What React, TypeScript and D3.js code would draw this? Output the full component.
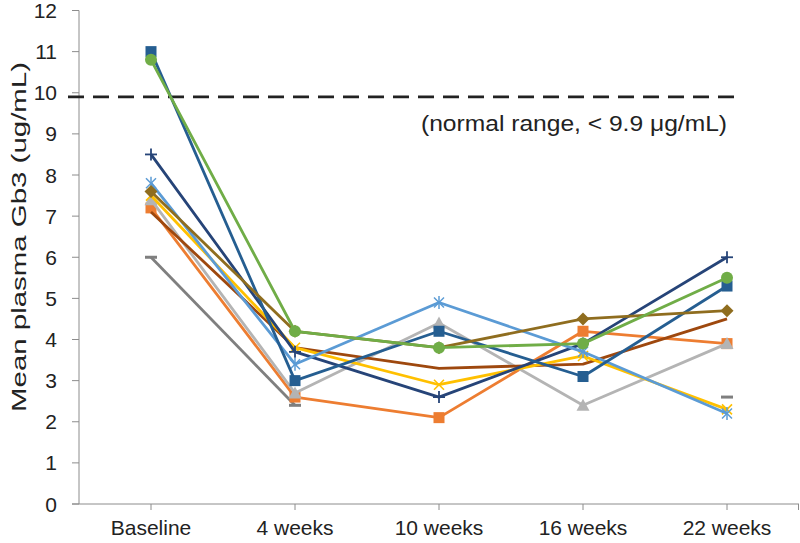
import React from "react";
import * as d3 from "d3";

const categories = ["Baseline", "4 weeks", "10 weeks", "16 weeks", "22 weeks"];
const yTicks = [0, 1, 2, 3, 4, 5, 6, 7, 8, 9, 10, 11, 12];

const navyPlus = [8.5, 3.7, 2.6, 3.9, 6.0];
const blueSquare = [11.0, 3.0, 4.2, 3.1, 5.3];
const greenCircle = [10.8, 4.2, 3.8, 3.9, 5.5];
const lightBlueStar = [7.8, 3.4, 4.9, 3.7, 2.2];
const orangeSquare = [7.2, 2.6, 2.1, 4.2, 3.9];
const grayTriangle = [7.4, 2.7, 4.4, 2.4, 3.9];
const goldX = [7.5, 3.8, 2.9, 3.6, 2.3];
const darkGrayDash: (number | null)[] = [6.0, 2.4, null, null, 2.6];
const brownLine = [7.1, 3.8, 3.3, 3.4, 4.5];
const oliveDiamond = [7.6, 4.2, 3.8, 4.5, 4.7];
const normalRange = 9.9;

type S = { values: (number | null)[]; color: string; marker: string };
const series: S[] = [
  { values: darkGrayDash, color: "#7f7f7f", marker: "dash" },
  { values: orangeSquare, color: "#ed7d31", marker: "square" },
  { values: grayTriangle, color: "#b4b4b4", marker: "triangle" },
  { values: brownLine, color: "#9e480e", marker: "none" },
  { values: goldX, color: "#ffc000", marker: "x" },
  { values: navyPlus, color: "#264478", marker: "plus" },
  { values: lightBlueStar, color: "#5b9bd5", marker: "star" },
  { values: blueSquare, color: "#255e91", marker: "square" },
  { values: oliveDiamond, color: "#8f6d1f", marker: "diamond" },
  { values: greenCircle, color: "#70ad47", marker: "circle" },
];

const W = 800, H = 543;
const left = 79, right = 799, top = 10.5, bottom = 504;

export default function App() {
  const x = d3.scaleBand<string>().domain(categories).range([left, right]);
  const y = d3.scaleLinear().domain([0, 12]).range([bottom, top]);
  const cx = (c: string) => (x(c) as number) + x.bandwidth() / 2;
  const font = "'Liberation Sans', Arial, sans-serif";

  const marker = (m: string, px: number, py: number, color: string, key: string) => {
    switch (m) {
      case "square":
        return <rect key={key} x={px - 5.5} y={py - 5.5} width={11} height={11} fill={color} />;
      case "circle":
        return <circle key={key} cx={px} cy={py} r={6} fill={color} />;
      case "triangle":
        return <path key={key} d={`M${px},${py - 6.5}L${px + 6.5},${py + 5.5}L${px - 6.5},${py + 5.5}Z`} fill={color} />;
      case "diamond":
        return <path key={key} d={`M${px},${py - 6.5}L${px + 6.5},${py}L${px},${py + 6.5}L${px - 6.5},${py}Z`} fill={color} />;
      case "dash":
        return <rect key={key} x={px - 6} y={py - 1.5} width={12} height={3} fill={color} />;
      case "plus":
        return (
          <g key={key} stroke={color} strokeWidth={1.8}>
            <line x1={px - 6} y1={py} x2={px + 6} y2={py} />
            <line x1={px} y1={py - 6} x2={px} y2={py + 6} />
          </g>
        );
      case "x":
        return (
          <g key={key} stroke={color} strokeWidth={1.6}>
            <line x1={px - 5} y1={py - 5} x2={px + 5} y2={py + 5} />
            <line x1={px - 5} y1={py + 5} x2={px + 5} y2={py - 5} />
          </g>
        );
      case "star":
        return (
          <g key={key} stroke={color} strokeWidth={1.5}>
            <line x1={px - 5} y1={py - 5} x2={px + 5} y2={py + 5} />
            <line x1={px - 5} y1={py + 5} x2={px + 5} y2={py - 5} />
            <line x1={px} y1={py - 6.5} x2={px} y2={py + 6.5} />
          </g>
        );
      default:
        return null;
    }
  };

  return (
    <svg width={W} height={H} style={{ position: "absolute", left: 0, top: 0, background: "#fff" }}>
      {/* axes */}
      <line x1={left} y1={y(12)} x2={left} y2={bottom} stroke="#8c8c8c" strokeWidth={1} />
      {yTicks.map((t) => (
        <g key={t}>
          <line x1={left - 7} x2={left} y1={y(t)} y2={y(t)} stroke="#8c8c8c" />
          <text x={57} y={y(t)} dy="0.36em" textAnchor="end" fontFamily={font} fontSize={21} fill="#222">
            {t}
          </text>
        </g>
      ))}
      <line x1={left - 7} x2={right} y1={bottom} y2={bottom} stroke="#8c8c8c" />
      {categories.map((c) => (
        <g key={c}>
          <line x1={cx(c)} x2={cx(c)} y1={bottom} y2={bottom + 6} stroke="#8c8c8c" />
          <text x={cx(c)} y={535} textAnchor="middle" fontFamily={font} fontSize={21} fill="#222">
            {c}
          </text>
        </g>
      ))}
      <line x1={right - 0.5} x2={right - 0.5} y1={bottom} y2={bottom + 6} stroke="#8c8c8c" />
      <text
        transform={`translate(26,237) rotate(-90)`}
        textAnchor="middle"
        fontFamily={font}
        fontSize={21}
        fill="#222"
        textLength={350}
        lengthAdjust="spacingAndGlyphs"
      >
        Mean plasma Gb3 (ug/mL)
      </text>

      {/* normal range */}
      <line x1={68} x2={736} y1={y(normalRange)} y2={y(normalRange)} stroke="#222" strokeWidth={2.8} strokeDasharray="16 9" />
      <text
        x={727}
        y={131}
        textAnchor="end"
        fontFamily={font}
        fontSize={22}
        fill="#222"
        textLength={306}
        lengthAdjust="spacingAndGlyphs"
      >
        (normal range, &lt; 9.9 μg/mL)
      </text>

      {/* series */}
      {series.map((s, i) => {
        const line = d3
          .line<number | null>()
          .defined((d) => d !== null)
          .x((_, j) => cx(categories[j]))
          .y((d) => y(d as number));
        return (
          <g key={i}>
            <path d={line(s.values) || ""} fill="none" stroke={s.color} strokeWidth={2.8} strokeLinejoin="round" />
            {s.values.map((v, j) =>
              v === null ? null : marker(s.marker, cx(categories[j]), y(v), s.color, `${i}-${j}`)
            )}
          </g>
        );
      })}
    </svg>
  );
}
